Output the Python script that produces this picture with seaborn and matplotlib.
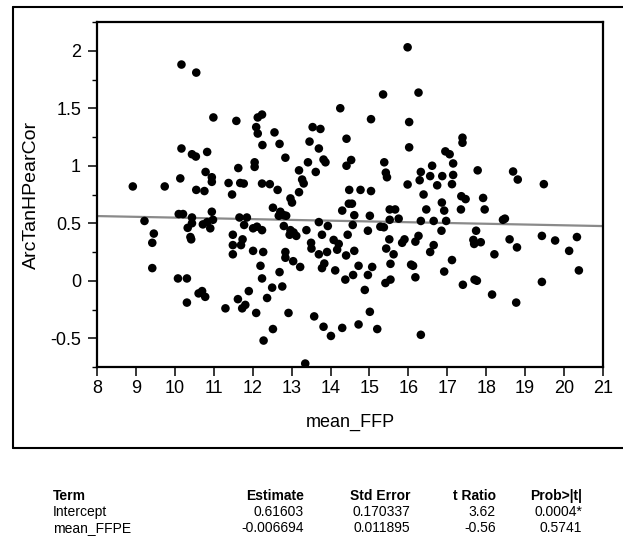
import matplotlib
matplotlib.use("Agg")
import matplotlib.pyplot as plt
from matplotlib.lines import Line2D
import numpy as np
import pandas as pd
import seaborn as sns

# observations: mean_FFP vs ArcTanHPearCor
mean_ffp = [
    10.17, 10.55, 10.99, 11.58, 12.13, 12.24, 12.09, 12.13, 12.25, 10.17,
    10.44, 10.54, 10.83, 11.63, 12.05, 12.05, 10.79, 10.95, 10.95, 10.14,
    8.92, 9.74, 10.55, 10.76, 11.38, 11.68, 11.77, 11.47, 12.24,
    15.98, 15.35, 16.26, 14.25, 15.04, 16.02, 12.56, 13.54, 13.74, 12.69,
    13.46, 13.70, 14.41, 16.02, 12.84, 13.42, 13.82, 13.87, 13.19, 13.27,
    13.31, 13.62, 14.41, 14.53, 15.38, 15.42, 15.45, 15.98, 16.32, 16.61,
    16.29, 16.56, 12.44, 12.64, 13.19, 14.48, 14.77, 15.04, 16.39, 16.74,
    17.39, 17.39, 16.95, 17.06, 17.15, 16.87, 17.15, 17.12, 17.78, 18.69,
    18.81, 19.48,
    9.22, 9.46, 9.42, 9.42, 10.10, 10.21, 10.44, 10.33, 10.44, 10.40,
    10.42, 10.95, 10.98, 10.72, 10.91, 10.83, 11.66, 11.85, 11.78, 12.01,
    12.11, 12.24, 11.49, 11.74, 11.49, 11.70, 11.49, 12.01, 12.27, 12.20,
    12.24, 10.08, 10.31, 10.61, 10.70, 10.78, 10.31, 11.30, 11.62, 11.90,
    11.81, 11.73, 12.09, 12.37, 12.28,
    12.97, 13.01, 12.52, 12.71, 12.67, 12.80, 12.86, 12.80, 12.97, 13.05,
    12.95, 13.12, 13.38, 13.70, 13.93, 13.78, 13.50, 13.51, 13.70, 13.91,
    12.84, 12.84, 13.04, 13.22, 13.84, 13.78, 14.12, 12.69, 12.50, 12.76,
    12.92, 12.52, 13.35, 13.58, 13.82, 14.01, 14.30, 14.72, 15.01, 15.20,
    16.32, 14.30, 14.47, 14.55, 14.61, 14.57, 14.08, 14.21, 14.17, 14.44,
    14.40, 14.61, 14.72, 14.38, 14.58, 15.07, 14.96, 14.88, 15.01, 14.96,
    15.28, 15.37, 15.52, 15.66, 15.52, 15.75, 15.51, 15.43, 15.62, 15.54,
    15.84, 15.90, 15.41, 15.54, 16.07, 16.12, 16.18, 16.32, 16.65, 16.46,
    16.26, 16.18, 16.56, 16.65,
    17.36, 17.47, 17.92, 16.86, 16.92, 17.35, 17.96, 16.97, 16.85, 17.74,
    17.67, 17.69, 17.86, 18.43, 18.48, 18.60, 18.79, 18.21, 19.43, 19.77,
    20.33, 20.13, 20.38, 19.43, 17.12, 16.92, 17.40, 17.70, 17.76, 18.15,
    18.77,
]
arctanh_pearcor = [
    1.88, 1.81, 1.42, 1.39, 1.42, 1.445, 1.336, 1.28, 1.18, 1.15,
    1.10, 1.08, 1.12, 0.98, 1.03, 0.99, 0.946, 0.90, 0.86, 0.89,
    0.82, 0.82, 0.79, 0.78, 0.85, 0.85, 0.845, 0.75, 0.845,
    2.03, 1.62, 1.636, 1.50, 1.405, 1.38, 1.29, 1.336, 1.32, 1.19,
    1.21, 1.15, 1.235, 1.16, 1.07, 1.03, 1.054, 1.03, 0.96, 0.88,
    0.846, 0.946, 1.00, 1.05, 1.03, 0.94, 0.90, 0.837, 0.946, 1.00,
    0.874, 0.91, 0.84, 0.79, 0.77, 0.79, 0.79, 0.78, 0.75, 0.83,
    1.244, 1.20, 1.125, 1.10, 1.02, 0.91, 0.92, 0.84, 0.96, 0.95,
    0.88, 0.84,
    0.52, 0.41, 0.33, 0.11, 0.58, 0.58, 0.55, 0.46, 0.50, 0.38,
    0.36, 0.60, 0.53, 0.49, 0.456, 0.51, 0.55, 0.55, 0.485, 0.456,
    0.47, 0.44, 0.40, 0.36, 0.31, 0.31, 0.23, 0.26, 0.25, 0.13,
    0.02, 0.02, 0.02, -0.11, -0.09, -0.14, -0.19, -0.24, -0.16, -0.09,
    -0.21, -0.24, -0.28, -0.15, -0.52,
    0.716, 0.68, 0.635, 0.60, 0.565, 0.57, 0.565, 0.476, 0.44, 0.42,
    0.40, 0.39, 0.44, 0.51, 0.476, 0.40, 0.33, 0.28, 0.23, 0.25,
    0.25, 0.20, 0.17, 0.12, 0.15, 0.11, 0.09, 0.075, -0.06, -0.05,
    -0.28, -0.42, -0.72, -0.31, -0.40, -0.48, -0.41, -0.38, -0.27, -0.42,
    -0.47, 0.61, 0.67, 0.67, 0.57, 0.485, 0.355, 0.32, 0.27, 0.40,
    0.22, 0.26, 0.13, 0.01, 0.05, 0.12, 0.05, -0.08, 0.565, 0.435,
    0.47, 0.465, 0.62, 0.62, 0.53, 0.54, 0.36, 0.28, 0.23, 0.147,
    0.33, 0.36, -0.02, 0.01, 0.14, 0.13, 0.03, 0.52, 0.52, 0.62,
    0.39, 0.34, 0.25, 0.31,
    0.735, 0.71, 0.72, 0.68, 0.61, 0.62, 0.62, 0.52, 0.435, 0.435,
    0.355, 0.32, 0.335, 0.53, 0.54, 0.36, 0.29, 0.23, 0.39, 0.35,
    0.38, 0.26, 0.09, -0.01, 0.18, 0.08, -0.035, 0.01, 0.00, -0.12,
    -0.19,
]

# parameter estimates of the linear fit
terms = ["Intercept", "mean_FFPE"]
estimates = [0.61603, -0.006694]
std_errors = [0.170337, 0.011895]
t_ratios = [3.62, -0.56]
p_values = ["0.0004*", "0.5741"]
table_headers = ["Term", "Estimate", "Std Error", "t Ratio", "Prob>|t|"]

x_ticks = list(range(8, 22))
y_ticks = [-0.5, 0, 0.5, 1, 1.5, 2]
y_tick_labels = ["-0.5", "0", "0.5", "1", "1.5", "2"]

sns.set_theme(style="ticks")
plt.rcParams["font.family"] = ["Liberation Sans", "DejaVu Sans"]

W, H = 623, 541
fig = plt.figure(figsize=(W / 100, H / 100), dpi=100)
ax = fig.add_axes([97 / W, 1 - 367 / H, (603 - 97) / W, (367 - 22) / H])

df = pd.DataFrame({"mean_FFP": mean_ffp, "ArcTanHPearCor": arctanh_pearcor})
sns.scatterplot(data=df, x="mean_FFP", y="ArcTanHPearCor", ax=ax,
                color="black", s=38, edgecolor="none", zorder=3)

# fitted line from the parameter estimates
fit_x = np.array([8.0, 21.0])
fit_y = estimates[0] + estimates[1] * fit_x
sns.lineplot(x=fit_x, y=fit_y, ax=ax, color="#8a8a8a", linewidth=1.6, zorder=2)

ax.set_xlim(8, 21)
ax.set_ylim(-0.745, 2.24)
ax.set_xticks(x_ticks)
ax.set_xticklabels([str(v) for v in x_ticks])
ax.set_yticks(y_ticks)
ax.set_yticklabels(y_tick_labels)
ax.set_yticks(np.arange(-0.75, 2.26, 0.25), minor=True)
ax.tick_params(axis="both", which="major", direction="out", length=6.5,
               width=1.1, color="black", labelsize=13, labelcolor="black",
               pad=3)
ax.tick_params(axis="y", which="major", pad=5)
ax.tick_params(axis="y", which="minor", direction="out", length=3.6,
               width=1.0, color="black")
for side in ["left", "right", "top", "bottom"]:
    ax.spines[side].set_visible(True)
    ax.spines[side].set_color("black")
    ax.spines[side].set_linewidth(1.6)

ax.set_xlabel("mean_FFP", fontsize=13, color="black")
ax.set_ylabel("ArcTanHPearCor", fontsize=14, color="black")
ax.xaxis.set_label_coords(0.5, -0.135)
ax.yaxis.set_label_coords(-0.112, 0.5)

# outer report frame
frame_kw = dict(color="black", linewidth=1.5, transform=fig.transFigure)
fig.add_artist(Line2D([13 / W, 1.0], [1 - 7 / H, 1 - 7 / H], **frame_kw))
fig.add_artist(Line2D([13 / W, 13 / W], [1 - 7 / H, 1 - 448 / H], **frame_kw))
fig.add_artist(Line2D([13 / W, 1.0], [1 - 448 / H, 1 - 448 / H], **frame_kw))

# parameter estimates table
col_x = [53, 304, 410, 496, 582]
col_ha = ["left", "right", "right", "right", "right"]
row_y = [496, 512, 528]
fs = 10
for cx, ha, head in zip(col_x, col_ha, table_headers):
    fig.text(cx / W, 1 - row_y[0] / H, head, ha=ha, va="center",
             fontsize=fs, fontweight="bold", color="black")
for i, term in enumerate(terms):
    vals = [term, f"{estimates[i]:.5f}" if i == 0 else f"{estimates[i]:.6f}",
            f"{std_errors[i]:.6f}", f"{t_ratios[i]:.2f}", p_values[i]]
    for cx, ha, v in zip(col_x, col_ha, vals):
        fig.text(cx / W, 1 - row_y[i + 1] / H, v, ha=ha, va="center",
                 fontsize=fs, color="black")

fig.savefig("out.png", dpi=100, facecolor="white")
